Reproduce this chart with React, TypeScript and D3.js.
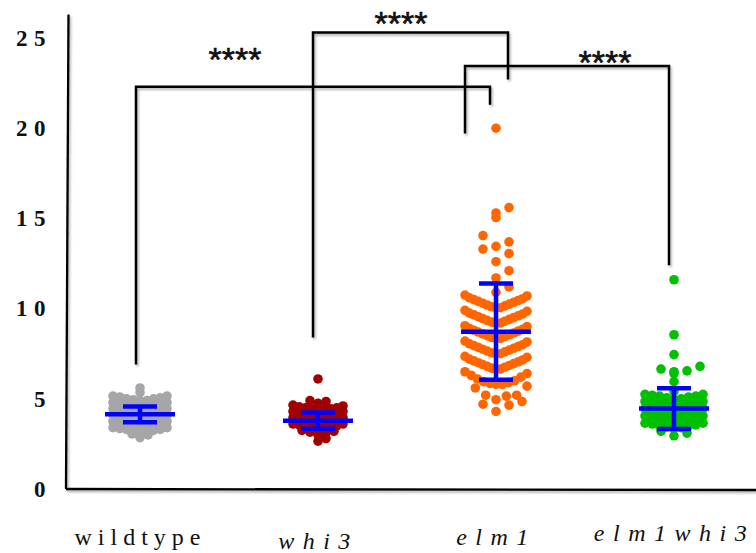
import React, { useEffect, useRef } from 'react';
import * as d3 from 'd3';

const WIDTH = 756;
const HEIGHT = 553;

const groups = ['wildtype', 'whi3', 'elm1', 'elm1whi3'];
const groupItalic = [false, true, true, true];
const groupColors = ['#a6a6a9', '#a00000', '#ff6600', '#00c000'];
const yTickValues = [0, 5, 10, 15, 20, 25];

// values, one per dot
const wildtypeValues = [
  2.85, 3.0, 3.05,
  3.15, 3.2, 3.2, 3.25, 3.3, 3.3, 3.35, 3.4, 3.4,
  3.5, 3.5, 3.55, 3.6, 3.6, 3.65, 3.7, 3.7, 3.75, 3.75, 3.75,
  3.85, 3.85, 3.9, 3.95, 3.95, 4.0, 4.0, 4.05, 4.1, 4.1, 4.1,
  4.2, 4.2, 4.25, 4.3, 4.3, 4.35, 4.35, 4.4, 4.45, 4.45, 4.45,
  4.55, 4.55, 4.6, 4.6, 4.65, 4.7, 4.7, 4.75, 4.8, 4.8, 4.8,
  4.9, 4.9, 4.95, 5.0, 5.0, 5.05, 5.1, 5.15, 5.15,
  5.35, 5.6,
];
const whi3Values = [
  2.65, 2.8,
  3.0, 3.1, 3.15, 3.2, 3.25,
  3.35, 3.4, 3.4, 3.45, 3.5, 3.5, 3.55, 3.6, 3.6,
  3.7, 3.7, 3.75, 3.8, 3.8, 3.85, 3.9, 3.9, 3.95, 3.95, 3.95,
  4.05, 4.05, 4.1, 4.15, 4.15, 4.2, 4.25, 4.25, 4.3, 4.3, 4.3,
  4.4, 4.4, 4.45, 4.45, 4.5, 4.5, 4.55, 4.6, 4.65,
  4.75, 4.85, 4.9,
  6.1,
];
const elm1Values = [
  4.3, 4.65, 4.7, 4.85,
  4.95, 5.15, 5.2, 5.2, 5.6, 5.7,
  5.8, 5.8, 5.85, 5.9, 5.95, 6.0, 6.1, 6.2, 6.3, 6.4, 6.5,
  6.65, 6.65, 6.7, 6.75, 6.8, 6.85, 6.9, 6.95, 7.0, 7.05, 7.1, 7.15, 7.2, 7.3, 7.35,
  7.5, 7.5, 7.55, 7.6, 7.65, 7.7, 7.75, 7.8, 7.85, 7.9, 7.95, 8.0, 8.05, 8.15, 8.2,
  8.35, 8.35, 8.4, 8.45, 8.5, 8.55, 8.6, 8.65, 8.7, 8.75, 8.8, 8.85, 8.9, 9.0, 9.05,
  9.2, 9.2, 9.25, 9.3, 9.35, 9.4, 9.45, 9.5, 9.55, 9.6, 9.65, 9.7, 9.75, 9.85, 9.9,
  10.05, 10.05, 10.1, 10.15, 10.2, 10.25, 10.3, 10.35, 10.4, 10.45, 10.5, 10.55, 10.6, 10.7, 10.75,
  10.9, 11.2, 11.7, 12.1, 12.6, 13.05, 13.3, 13.45, 13.7, 14.05,
  15.05, 15.3, 15.6, 20.0,
];
const elm1whi3Values = [
  2.95, 3.1, 3.2,
  3.35, 3.4, 3.45, 3.5, 3.5, 3.55, 3.6, 3.65, 3.65,
  3.75, 3.75, 3.8, 3.85, 3.9, 3.9, 3.95, 4.0, 4.0, 4.05, 4.05,
  4.15, 4.15, 4.2, 4.25, 4.3, 4.3, 4.35, 4.4, 4.4, 4.45, 4.45,
  4.55, 4.55, 4.6, 4.65, 4.7, 4.7, 4.75, 4.8, 4.8, 4.85, 4.85,
  4.95, 5.0, 5.05, 5.1, 5.15, 5.15, 5.2, 5.25, 5.25,
  5.4, 5.95, 6.4, 6.5, 6.55, 6.65, 6.8, 7.45, 8.55, 11.6,
];
const groupValues = [wildtypeValues, whi3Values, elm1Values, elm1whi3Values];

const groupMeans = [4.14, 3.79, 8.72, 4.46];
const groupSDs = [0.44, 0.45, 2.67, 1.13];

// significance brackets, levels in data units
const comparisons = [
  { a: 'wildtype', b: 'elm1', top: 22.3, endA: 6.9, endB: 21.3, label: '****', labelAt: 24.2 },
  { a: 'whi3', b: 'elm1', top: 25.3, endA: 8.4, endB: 22.7, label: '****', labelAt: 26.2 },
  { a: 'elm1', b: 'elm1whi3', top: 23.45, endA: 19.7, endB: 12.4, label: '****', labelAt: 24.05 },
];

// swarm layout per group (bin size in data units, widths in px)
const swarmCfg = [
  { origin: 2.745, size: 0.35, halfWidth: 27, maxStep: 8 },
  { origin: 2.595, size: 0.35, halfWidth: 25, maxStep: 8 },
  { origin: 4.045, size: 0.85, halfWidth: 31, maxStep: 13 },
  { origin: 2.895, size: 0.4, halfWidth: 29, maxStep: 13 },
];
const bracketNudge = [[-4, -6], [-5, 12], [-31, -5]];
const starNudge = [-83, -6, 20];
const labelBaselines = [56, 60, 56, 52];

const SERIF = '"Liberation Serif", "Times New Roman", serif';
const SANS = '"Liberation Sans", Arial, sans-serif';

function swarm(values, cfg) {
  const bins = d3.group(values, v => Math.floor((v - cfg.origin) / cfg.size));
  const out = [];
  for (const [, vs] of bins) {
    const sorted = [...vs].sort(d3.ascending);
    const n = sorted.length;
    const slots = n - 1 + (n % 2 === 0 ? 1 : 0);
    const step = n > 1 ? Math.min(cfg.maxStep, (2 * cfg.halfWidth) / slots) : 0;
    sorted.forEach((v, i) => {
      const slot = i === 0 ? 0 : i % 2 ? (i + 1) / 2 : -i / 2;
      out.push({ v, dx: slot * step });
    });
  }
  return out;
}

const App = () => {
  const yAxisRef = useRef(null);
  const xAxisRef = useRef(null);

  const x = d3.scalePoint().domain(groups).range([140, 674]);
  const y = d3.scaleLinear().domain([0, 25]).range([489, 38]);

  useEffect(() => {
    const gy = d3.select(yAxisRef.current);
    gy.call(d3.axisLeft(y).tickValues(yTickValues).tickSize(0).tickPadding(14).tickFormat(d3.format('d')));
    gy.select('.domain').remove();
    gy.attr('font-family', SERIF).attr('font-size', 23);
    gy.selectAll('text')
      .attr('font-weight', 'bold')
      .attr('letter-spacing', 6.5)
      .attr('fill', '#111');

    const gx = d3.select(xAxisRef.current);
    gx.call(d3.axisBottom(x).tickSize(0));
    gx.select('.domain').remove();
    gx.attr('font-family', SERIF).attr('font-size', 24);
    gx.selectAll('text')
      .attr('dy', 0)
      .attr('y', (d, i) => labelBaselines[i])
      .attr('font-style', (d, i) => (groupItalic[i] ? 'italic' : 'normal'))
      .attr('letter-spacing', (d, i) => (groupItalic[i] ? 8.5 : 6))
      .attr('fill', '#111');
  }, []);

  return (
    <svg width={WIDTH} height={HEIGHT} style={{ position: 'absolute', left: 0, top: 0, background: '#fff' }}>
      <defs>
        <filter id="shadow" filterUnits="userSpaceOnUse" x="0" y="0" width={WIDTH} height={HEIGHT}>
          <feDropShadow dx="1.5" dy="2" stdDeviation="1.3" floodColor="#000" floodOpacity="0.3" />
        </filter>
      </defs>
      <rect width={WIDTH} height={HEIGHT} fill="#fff" />

      <g filter="url(#shadow)" stroke="black" strokeWidth={2.3} fill="none">
        <line x1={68.5} y1={y(26.3)} x2={66} y2={y(0)} />
        <line x1={66} y1={y(0)} x2={WIDTH} y2={y(0) + 1} />
        {comparisons.map((c, i) => {
          const xa = x(c.a) + bracketNudge[i][0];
          const xb = x(c.b) + bracketNudge[i][1];
          return (
            <path key={i} strokeWidth={2.5}
              d={`M${xa},${y(c.endA)}V${y(c.top)}H${xb}V${y(c.endB)}`} />
          );
        })}
      </g>

      {comparisons.map((c, i) => {
        const mid = (x(c.a) + x(c.b)) / 2 + starNudge[i];
        return (
          <text key={i} x={mid} y={y(c.labelAt) + 19} textAnchor="middle"
            fontFamily={SANS} fontSize={34} fill="#111" stroke="#111" strokeWidth={0.6}>{c.label}</text>
        );
      })}

      {groupValues.map((vals, gi) => (
        <g key={groups[gi]} fill={groupColors[gi]}>
          {swarm(vals, swarmCfg[gi]).map((p, j) => (
            <circle key={j} cx={x(groups[gi]) + p.dx} cy={y(p.v)} r={4.8} />
          ))}
        </g>
      ))}

      {groups.map((g, gi) => {
        const cx = x(g);
        const m = groupMeans[gi];
        const s = groupSDs[gi];
        return (
          <g key={g} stroke="#0000ff" strokeWidth={4.5} fill="none">
            <line x1={cx - 35} x2={cx + 35} y1={y(m)} y2={y(m)} />
            <line x1={cx} x2={cx} y1={y(m - s)} y2={y(m + s)} />
            <line x1={cx - 17} x2={cx + 17} y1={y(m + s)} y2={y(m + s)} />
            <line x1={cx - 17} x2={cx + 17} y1={y(m - s)} y2={y(m - s)} />
          </g>
        );
      })}

      <g ref={yAxisRef} transform="translate(66,0)" />
      <g ref={xAxisRef} transform={`translate(0,${y(0)})`} />
    </svg>
  );
};

export default App;
